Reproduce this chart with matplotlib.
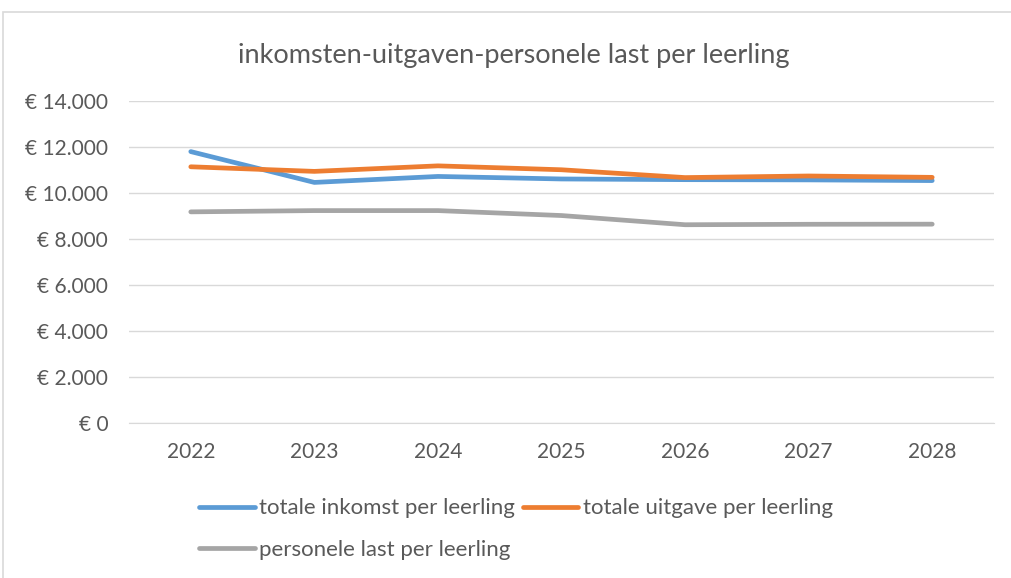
import numpy as np
import matplotlib.pyplot as plt
from matplotlib.patches import Rectangle
from matplotlib.ticker import FuncFormatter

# waarden per jaar
jaren = ['2022', '2023', '2024', '2025', '2026', '2027', '2028']
inkomst = [11800, 10460, 10720, 10610, 10580, 10570, 10540]
uitgave = [11140, 10940, 11180, 11010, 10670, 10740, 10680]
personeel = [9180, 9235, 9235, 9020, 8620, 8640, 8645]

plt.rcParams['font.family'] = ['Lato', 'DejaVu Sans']
txt = '#595959'
grid = '#D9D9D9'

fig = plt.figure(figsize=(10.12, 5.78), dpi=100)
ax = fig.add_axes([129/1012, 1-423/578, 865/1012, 322/578])

x = np.arange(len(jaren))
l1, = ax.plot(x, inkomst, color='#5B9BD5', lw=3.4, solid_capstyle='round', label='totale inkomst per leerling')
l2, = ax.plot(x, uitgave, color='#ED7D31', lw=3.4, solid_capstyle='round', label='totale uitgave per leerling')
l3, = ax.plot(x, personeel, color='#A5A5A5', lw=3.4, solid_capstyle='round', label='personele last per leerling')

ax.set_xlim(-0.5, len(jaren)-0.5)
ax.set_ylim(0, 14000)
ax.set_yticks(range(0, 14001, 2000))
ax.yaxis.set_major_formatter(FuncFormatter(lambda v, p: '€ ' + f'{int(v):,}'.replace(',', '.')))
ax.set_xticks(x)
ax.set_xticklabels(jaren)
ax.grid(axis='y', color=grid, lw=1)
ax.set_axisbelow(True)
for s in ['top', 'right', 'left']:
    ax.spines[s].set_visible(False)
ax.spines['bottom'].set_color(grid)
ax.tick_params(axis='both', length=0, labelsize=15, labelcolor=txt)
ax.tick_params(axis='y', pad=15)
ax.tick_params(axis='x', pad=14)

fig.text(514/1012, 1-55/578, 'inkomsten-uitgaven-personele last per leerling',
         ha='center', va='center', fontsize=19.5, color=txt)

fig.legend(handles=[l1, l3, l2], ncol=2, loc='center left', bbox_to_anchor=(188/1012, 1-529/578),
           frameon=False, fontsize=16, labelcolor=txt, handlelength=2.5, handletextpad=0.2,
           columnspacing=0.35, labelspacing=0.95, borderpad=0)

fig.patches.append(Rectangle((3/1012, -0.1), 1.2, 1-12/578+0.1, transform=fig.transFigure,
                             fill=False, edgecolor='#D9D9D9', lw=1.2))

fig.savefig('out.png', dpi=100)
